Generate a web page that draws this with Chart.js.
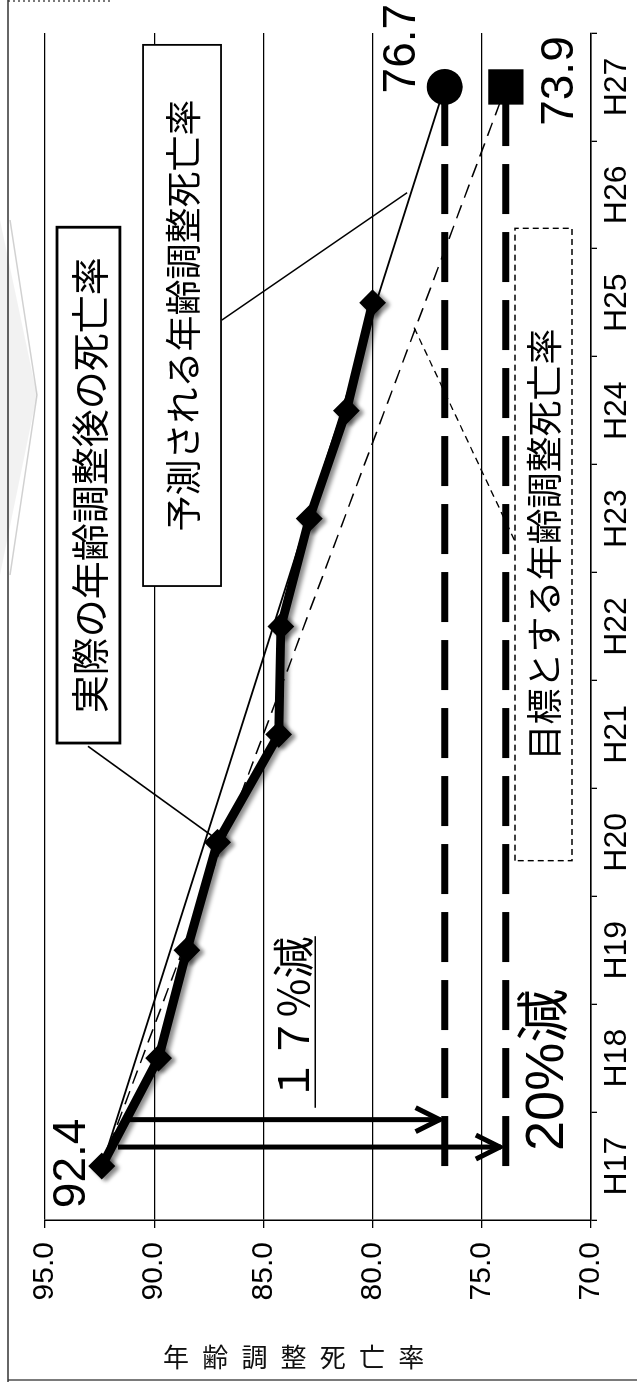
<!DOCTYPE html>
<html><head><meta charset="utf-8">
<script src="https://cdn.jsdelivr.net/npm/chart.js@4"></script>
<style>
html,body{margin:0;padding:0;background:#fff;}
#page{position:relative;width:637px;height:1382px;overflow:hidden;background:#fff;}
#rot{position:absolute;left:0;top:0;width:1382px;height:637px;transform-origin:0 0;transform:translate(0,1382px) rotate(-90deg);}
canvas{display:block;}
</style></head><body>
<div id="page"><div id="rot"><canvas id="c" width="1382" height="637"></canvas></div></div>
<script>
// ---- data ----
const categories = ['H17','H18','H19','H20','H21','H22','H23','H24','H25','H26','H27'];
const actualRate    = [92.4, 89.8, 88.5, 87.1, 84.3, 84.2, 82.9, 81.2, 80.0, null, null];
const predictedRate = [92.4, null, null, null, null, null, null, null, null, null, 76.7];
const targetRate    = [92.4, null, null, null, null, null, null, null, null, null, 73.9];
const goal17Line    = [76.7, null, null, null, null, null, null, null, null, null, 76.7];
const goal20Line    = [73.9, null, null, null, null, null, null, null, null, null, 73.9];
const valueMin = 70, valueMax = 95, valueStep = 5;
const axisTitle = '年齢調整死亡率';

const NUM = "'Liberation Sans', Arial, sans-serif";
const JP = "'Noto Sans CJK JP', 'Noto Sans', sans-serif";

const deco = {
  id: 'deco',
  beforeDatasetsDraw(chart) {
    const ctx = chart.ctx, xs = chart.scales.x, ys = chart.scales.y;
    const X = i => xs.getPixelForValue(i), Y = v => ys.getPixelForValue(v);
    ctx.save();
    // leader lines
    ctx.strokeStyle = '#000';
    ctx.lineWidth = 1.6;
    ctx.beginPath(); ctx.moveTo(X(3.89), Y(93.03)); ctx.lineTo(X(3.06), Y(87.35)); ctx.stroke();
    ctx.beginPath(); ctx.moveTo(X(7.84), Y(86.9)); ctx.lineTo(X(9.02), Y(78.42)); ctx.stroke();
    ctx.setLineDash([7, 5]); ctx.lineWidth = 1.3;
    ctx.beginPath(); ctx.moveTo(X(7.77), Y(78.1)); ctx.lineTo(X(5.79), Y(73.48)); ctx.stroke();
    ctx.setLineDash([]);
    // boxes
    const box = (i0, i1, v0, v1, lw, dash, text, size) => {
      const x0 = X(i0), x1 = X(i1), y0 = Y(v0), y1 = Y(v1);
      ctx.fillStyle = '#fff';
      ctx.fillRect(x0, y0, x1 - x0, y1 - y0);
      ctx.lineWidth = lw; ctx.strokeStyle = '#000';
      ctx.setLineDash(dash);
      ctx.strokeRect(x0, y0, x1 - x0, y1 - y0);
      ctx.setLineDash([]);
      ctx.fillStyle = '#000';
      ctx.font = size + 'px ' + JP;
      ctx.textAlign = 'center'; ctx.textBaseline = 'middle';
      ctx.fillText(text, (x0 + x1) / 2, (y0 + y1) / 2 + 1);
    };
    box(3.92, 8.70, 94.45, 91.57, 2.8, [], '実際の年齢調整後の死亡率', 38);
    box(5.375, 10.39, 90.51, 86.94, 1.8, [], '予測される年齢調整死亡率', 36);
    box(2.83, 8.69, 73.48, 70.87, 1.4, [6, 4], '目標とする年齢調整死亡率', 36);
    ctx.restore();
  },
  beforeDatasetDraw(chart, args) {
    if (args.index === 0) {
      const ctx = chart.ctx;
      ctx.shadowColor = 'rgba(0,0,0,0.45)';
      ctx.shadowBlur = 4; ctx.shadowOffsetX = -2; ctx.shadowOffsetY = 4;
    }
  },
  afterDatasetDraw(chart, args) {
    const ctx = chart.ctx;
    ctx.shadowColor = 'rgba(0,0,0,0)'; ctx.shadowBlur = 0; ctx.shadowOffsetX = 0; ctx.shadowOffsetY = 0;
  },
  afterDatasetsDraw(chart) {
    const ctx = chart.ctx, xs = chart.scales.x, ys = chart.scales.y;
    const X = i => xs.getPixelForValue(i), Y = v => ys.getPixelForValue(v);
    ctx.save();
    // arrows
    const arrow = (i, vFrom, vTo, back) => {
      const x = X(i), y0 = Y(vFrom), y1 = Y(vTo) - back;
      ctx.strokeStyle = '#000'; ctx.lineWidth = 5; ctx.lineCap = 'butt';
      ctx.beginPath(); ctx.moveTo(x, y0); ctx.lineTo(x, y1); ctx.stroke();
      ctx.lineJoin = 'miter';
      ctx.beginPath(); ctx.moveTo(x - 12, y1 - 25); ctx.lineTo(x, y1 - 1); ctx.lineTo(x + 12, y1 - 25); ctx.stroke();
    };
    arrow(0.43, 91.34, 76.7, 4);
    arrow(0.176, 91.66, 73.9, 5);
    // value labels
    ctx.fillStyle = '#000';
    ctx.font = '46px ' + NUM;
    ctx.textAlign = 'left'; ctx.textBaseline = 'alphabetic';
    ctx.fillText('92.4', X(-0.39), Y(93.17));
    ctx.fillText('76.7', X(9.94), Y(78.06));
    ctx.fillText('73.9', X(9.64), Y(70.82));
    // reduction labels
    ctx.font = '42px ' + JP;
    ctx.fillText('１７%減', X(0.60), Y(82.9));
    ctx.lineWidth = 1.5;
    ctx.beginPath(); ctx.moveTo(X(0.54), Y(82.63)); ctx.lineTo(X(2.13), Y(82.63)); ctx.stroke();
    ctx.font = '54px ' + NUM + ", 'Noto Sans CJK JP'";
    ctx.fillText('20%減', X(0.14), Y(71.28));
    ctx.restore();
  },
  afterDraw(chart) {
    const ctx = chart.ctx;
    ctx.save();
    // outer frame (page left = canvas top, page bottom = canvas left)
    ctx.strokeStyle = '#333'; ctx.lineWidth = 1.3;
    ctx.beginPath(); ctx.moveTo(0, 8); ctx.lineTo(1382, 8); ctx.stroke();
    ctx.beginPath(); ctx.moveTo(2, 8); ctx.lineTo(2, 637); ctx.stroke();
    ctx.setLineDash([2, 3]);
    ctx.beginPath(); ctx.moveTo(1381, 8); ctx.lineTo(1381, 110); ctx.stroke();
    ctx.setLineDash([]);
    // faint chevron decoration
    ctx.fillStyle = 'rgba(0,0,0,0.05)';
    ctx.strokeStyle = 'rgba(0,0,0,0.18)'; ctx.lineWidth = 1.5;
    ctx.beginPath(); ctx.moveTo(1162, 0); ctx.lineTo(987, 37); ctx.lineTo(807, 0); ctx.closePath(); ctx.fill();
    ctx.beginPath(); ctx.moveTo(1162, 10); ctx.lineTo(987, 37); ctx.lineTo(807, 10); ctx.stroke();
    // axis title, upright characters in page orientation
    ctx.fillStyle = '#111';
    ctx.font = '26px ' + JP;
    ctx.textAlign = 'center'; ctx.textBaseline = 'middle';
    for (let k = 0; k < axisTitle.length; k++) {
      ctx.save();
      ctx.translate(25, 176 + 39.2 * k);
      ctx.rotate(Math.PI / 2);
      ctx.fillText(axisTitle[k], 0, 0);
      ctx.restore();
    }
    ctx.restore();
  }
};

const pointAtEnd = r => c => (c.dataIndex === categories.length - 1 ? r : 0);

new Chart(document.getElementById('c'), {
  type: 'line',
  data: {
    labels: categories,
    datasets: [
      { label: '実際', data: actualRate, order: 0, borderColor: '#000', borderWidth: 9,
        pointStyle: 'rectRot', pointRadius: 12, pointBackgroundColor: '#000', pointBorderColor: '#000', pointBorderWidth: 2 },
      { label: '予測', data: predictedRate, order: 2, spanGaps: true, borderColor: '#000', borderWidth: 1.8, pointRadius: 0 },
      { label: '目標', data: targetRate, order: 3, spanGaps: true, borderColor: '#000', borderWidth: 1.5, borderDash: [14, 8], pointRadius: 0 },
      { label: '17%', data: goal17Line, order: 1, spanGaps: true, borderColor: '#000', borderWidth: 7, borderDash: [50, 18],
        pointStyle: 'circle', pointRadius: pointAtEnd(18), pointBackgroundColor: '#000', pointBorderColor: '#000', pointBorderWidth: 0 },
      { label: '20%', data: goal20Line, order: 1, spanGaps: true, borderColor: '#000', borderWidth: 7, borderDash: [50, 18],
        pointStyle: 'rect', pointRadius: pointAtEnd(25), pointBackgroundColor: '#000', pointBorderColor: '#000', pointBorderWidth: 0 }
    ]
  },
  options: {
    responsive: false, animation: false, devicePixelRatio: 1,
    layout: { padding: { top: 45, right: 33, left: 0, bottom: 0 } },
    plugins: { legend: { display: false }, tooltip: { enabled: false } },
    elements: { line: { tension: 0 } },
    scales: {
      x: {
        type: 'category', offset: true,
        grid: { display: true, drawOnChartArea: false, drawTicks: true, tickLength: 6, color: '#000', lineWidth: 1.3, offset: true },
        border: { display: true, color: '#000', width: 1.5 },
        ticks: { color: '#000', font: { family: NUM, size: 32 }, padding: 1, maxRotation: 0, autoSkip: false },
        afterFit(s) { s.height = 46; }
      },
      y: {
        min: valueMin, max: valueMax,
        grid: { color: '#000', lineWidth: 1.3, tickLength: 8, drawTicks: true },
        border: { display: true, color: '#000', width: 1.5 },
        ticks: { stepSize: valueStep, color: '#000', font: { family: NUM, size: 30 }, padding: 14,
                 callback: v => Number(v).toFixed(1) },
        afterFit(s) { s.width = 162; }
      }
    }
  },
  plugins: [deco]
});
</script>
</body></html>
